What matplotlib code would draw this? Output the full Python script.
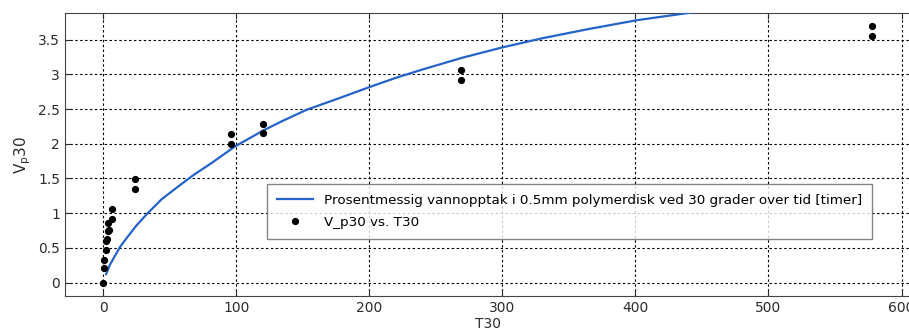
import matplotlib.pyplot as plt

# measured points (hours, % water uptake)
t_meas = [0, 1, 1, 2.5, 2.5, 3, 4, 4.5, 4, 7, 7, 24, 24, 96, 96, 120, 120, 269, 269, 577.5, 577.5]
v_meas = [0, 0.21, 0.32, 0.47, 0.6, 0.62, 0.74, 0.75, 0.86, 0.92, 1.06, 1.35, 1.49, 2.0, 2.14, 2.16, 2.28, 2.92, 3.06, 3.55, 3.69]

# fitted curve
t_fit = [2.3, 5, 8.5, 13, 18.5, 25, 33.6, 44, 56.2, 68, 81.4, 99, 120.3, 135, 153, 175,
         200.7, 220, 240, 270, 300.4, 330, 364, 401, 438, 470]
v_fit = [0.12, 0.25, 0.37, 0.52, 0.66, 0.82, 1.0, 1.2, 1.38, 1.55, 1.72, 1.96, 2.19, 2.33, 2.49, 2.64,
         2.82, 2.95, 3.07, 3.24, 3.39, 3.52, 3.65, 3.78, 3.88, 3.97]

x_ticks = [0, 100, 200, 300, 400, 500, 600]
y_ticks = [0, 0.5, 1, 1.5, 2, 2.5, 3, 3.5]

fit_label = "Prosentmessig vannopptak i 0.5mm polymerdisk ved 30 grader over tid [timer]"
meas_label = "V_p30 vs. T30"

plt.rcParams["font.family"] = ["DejaVu Sans"]

fig = plt.figure(figsize=(9.09, 3.32), dpi=100)
ax = fig.add_axes([65 / 909, 1 - 295.7 / 332, 1 - 65 / 909 + 0.002, (295.7 - 13.3) / 332])

ax.plot(t_fit, v_fit, color="#2463c9", lw=1.6, label=fit_label, zorder=3)
ax.plot(t_meas, v_meas, "o", color="black", ms=4.2, label=meas_label, zorder=4)

ax.set_xlim(-28.6, 607)
ax.set_ylim(-0.19, 3.88)
ax.set_xticks(x_ticks)
ax.set_xticklabels([str(x) for x in x_ticks])
ax.set_yticks(y_ticks)
ax.set_yticklabels(["0", "0.5", "1", "1.5", "2", "2.5", "3", "3.5"])

ax.grid(True, color="black", linestyle=(0, (2.2, 2.2)), linewidth=0.8)
ax.tick_params(direction="in", length=4, labelsize=10, colors="#2b2b2b", top=True)
for side in ["left", "bottom", "top"]:
    ax.spines[side].set_color("#444444")
ax.spines["right"].set_visible(False)

ax.set_xlabel("T30", fontsize=10, color="#2b2b2b", labelpad=2)
ax.set_ylabel(r"$\mathregular{V_p30}$", fontsize=11, color="#2b2b2b", labelpad=4)

leg = fig.legend(loc="upper left", bbox_to_anchor=(267 / 909, 1 - 184 / 332),
                 fontsize=9.7, frameon=True, fancybox=False, borderpad=0.72,
                 borderaxespad=0, handlelength=2.7, labelspacing=0.7)
leg.get_frame().set_edgecolor("#666666")
leg.get_frame().set_linewidth(1.0)

fig.savefig("out.png", dpi=100, facecolor="white")
